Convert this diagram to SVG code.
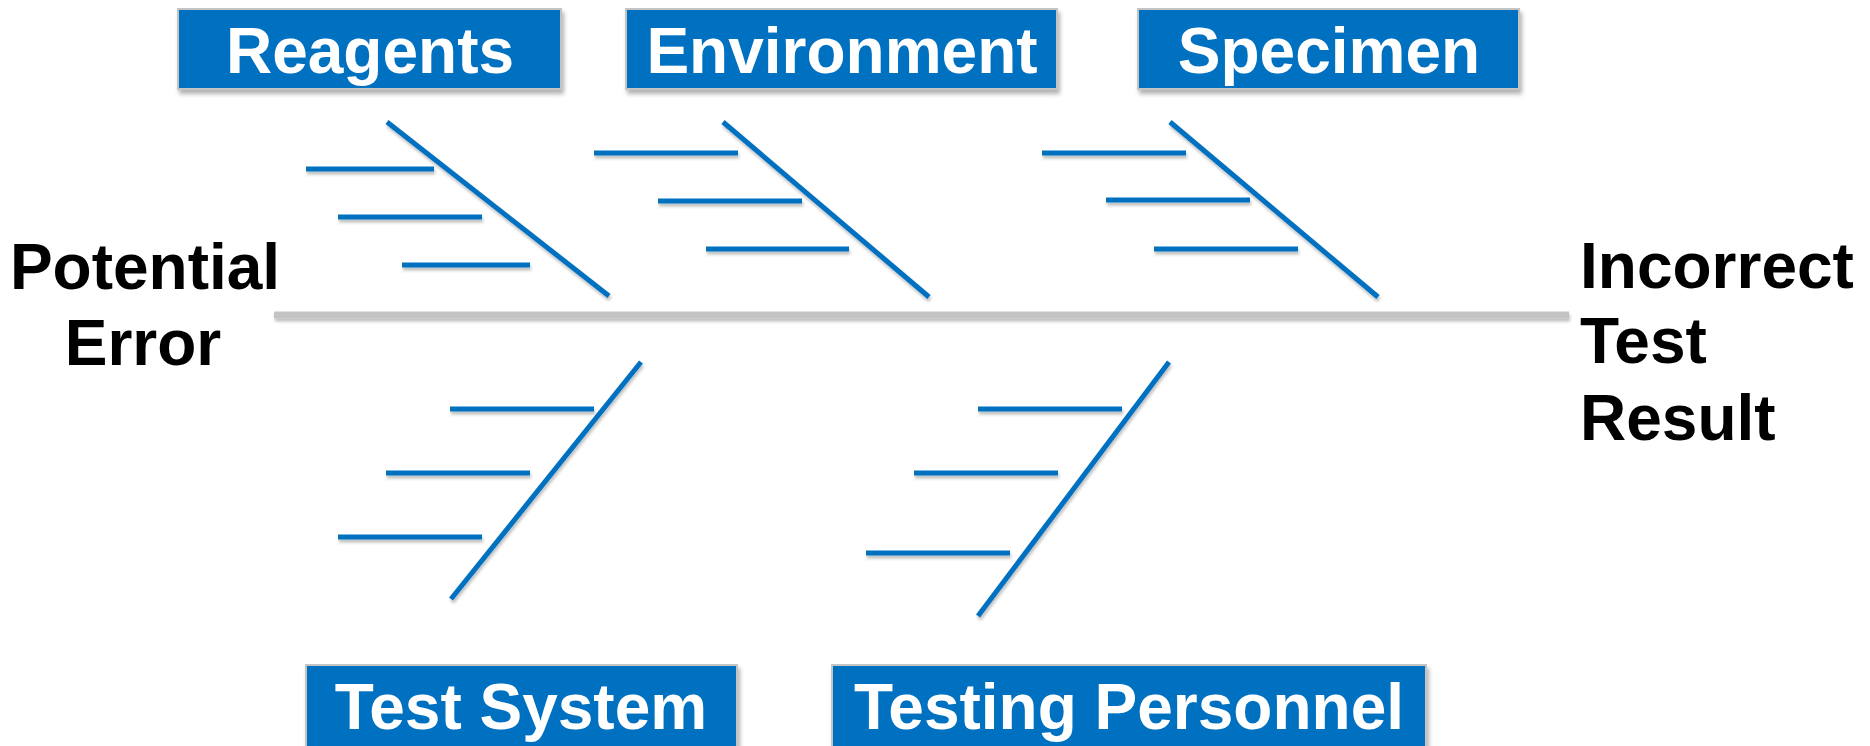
<svg xmlns="http://www.w3.org/2000/svg" width="1870" height="746" viewBox="0 0 1870 746">
<defs>
<filter id="sh" x="-10%" y="-10%" width="120%" height="140%">
<feDropShadow dx="2" dy="4" stdDeviation="2" flood-color="#000" flood-opacity="0.3"/>
</filter>
<filter id="lsh" x="-5%" y="-20%" width="110%" height="140%">
<feDropShadow dx="1" dy="3" stdDeviation="1.5" flood-color="#000" flood-opacity="0.25"/>
</filter>
</defs>
<style>
.box{fill:#0070C0;stroke:#c4c4c4;stroke-width:2;filter:url(#sh)}
.bt{font-family:"Liberation Sans",Arial,sans-serif;font-weight:bold;font-size:64px;fill:#fff;text-anchor:middle}
.lbl{font-family:"Liberation Sans",Arial,sans-serif;font-weight:bold;font-size:64px;fill:#000}
.bone{stroke:#0070C0;stroke-width:5;fill:none}
.spine{stroke:#c3c3c3;stroke-width:7;fill:none}
</style>
<rect width="1870" height="746" fill="#fff"/>
<g id="connectors" filter="url(#lsh)">
<line class="spine" x1="274" y1="315" x2="1569" y2="315"/>
<line class="bone" x1="387" y1="122" x2="609" y2="296"/>
<line class="bone" x1="306" y1="169" x2="434" y2="169"/>
<line class="bone" x1="338" y1="217" x2="482" y2="217"/>
<line class="bone" x1="402" y1="265" x2="530" y2="265"/>
<line class="bone" x1="723" y1="122" x2="929" y2="297"/>
<line class="bone" x1="594" y1="153" x2="738" y2="153"/>
<line class="bone" x1="658" y1="201" x2="802" y2="201"/>
<line class="bone" x1="706" y1="249" x2="849" y2="249"/>
<line class="bone" x1="1170" y1="122" x2="1378" y2="297"/>
<line class="bone" x1="1042" y1="153" x2="1186" y2="153"/>
<line class="bone" x1="1106" y1="200" x2="1250" y2="200"/>
<line class="bone" x1="1154" y1="249" x2="1298" y2="249"/>
<line class="bone" x1="641" y1="362" x2="451" y2="599"/>
<line class="bone" x1="450" y1="409" x2="594" y2="409"/>
<line class="bone" x1="386" y1="473" x2="530" y2="473"/>
<line class="bone" x1="338" y1="537" x2="482" y2="537"/>
<line class="bone" x1="1169" y1="362" x2="978" y2="616"/>
<line class="bone" x1="978" y1="409" x2="1122" y2="409"/>
<line class="bone" x1="914" y1="473" x2="1058" y2="473"/>
<line class="bone" x1="866" y1="553" x2="1010" y2="553"/>
</g>
<g id="reagents"><rect class="box" x="178" y="9" width="383" height="80"/><text class="bt" x="370" y="73">Reagents</text></g>
<g id="environment"><rect class="box" x="626" y="9" width="431" height="80"/><text class="bt" x="842" y="73">Environment</text></g>
<g id="specimen"><rect class="box" x="1138" y="9" width="381" height="80"/><text class="bt" x="1329" y="73">Specimen</text></g>
<g id="test-system"><rect class="box" x="306" y="665" width="431" height="90"/><text class="bt" x="521" y="729">Test System</text></g>
<g id="testing-personnel"><rect class="box" x="832" y="665" width="594" height="90"/><text class="bt" x="1129" y="729">Testing Personnel</text></g>
<g id="potential-error"><text class="lbl" text-anchor="middle" x="145" y="289">Potential</text><text class="lbl" text-anchor="middle" x="143" y="365">Error</text></g>
<g id="incorrect-result"><text class="lbl" x="1580" y="288">Incorrect</text><text class="lbl" x="1580" y="363">Test</text><text class="lbl" x="1580" y="440">Result</text></g>
</svg>
